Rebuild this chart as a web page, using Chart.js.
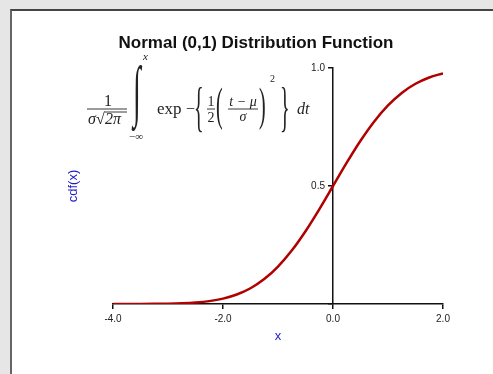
<!DOCTYPE html>
<html>
<head>
<meta charset="utf-8">
<script src="https://cdn.jsdelivr.net/npm/chart.js@4"></script>
<style>
  html, body { margin: 0; padding: 0; }
  body { width: 493px; height: 374px; background: #e6e6e6; position: relative; overflow: hidden; }
  #panel {
    position: absolute; left: 10px; top: 9px; right: 0; bottom: 0;
    background: #fff; border-left: 2px solid #666; border-top: 2px solid #444;
  }
  #wrap { position: absolute; left: 0; top: 0; width: 493px; height: 374px; }
</style>
</head>
<body>
<div id="panel"></div>
<div id="wrap"><canvas id="cdfChart" width="493" height="374"></canvas></div>
<script>
// x positions and cdf values
const xValues = [-4, -3.75, -3.5, -3.25, -3, -2.75, -2.5, -2.25, -2, -1.75, -1.5, -1.25, -1,
  -0.75, -0.5, -0.25, 0, 0.25, 0.5, 0.75, 1, 1.25, 1.5, 1.75, 2];
const cdfValues = [0.0000, 0.0001, 0.0002, 0.0006, 0.0013, 0.0030, 0.0062, 0.0122, 0.0228, 0.0401,
  0.0668, 0.1057, 0.1587, 0.2266, 0.3085, 0.4013, 0.5, 0.5987, 0.6915, 0.7734, 0.8413, 0.8944,
  0.9332, 0.9599, 0.9773];
const xTicks = [-4, -2, 0, 2];
const yTicks = [0, 0.5, 1.0];

const chartTitle = 'Normal (0,1) Distribution Function';
const xLabel = 'x';
const yLabel = 'cdf(x)';
const labelBlue = '#1c1cc4';
const sans = '"Liberation Sans", Arial, sans-serif';

// Helper: draw text piece, optional vertical stretch
function put(ctx, txt, x, y, font, sy, align) {
  ctx.save();
  ctx.font = font;
  ctx.textAlign = align || 'left';
  ctx.textBaseline = 'alphabetic';
  ctx.translate(x, y);
  if (sy) ctx.scale(1, sy);
  ctx.fillText(txt, 0, 0);
  ctx.restore();
}

function hline(ctx, x1, x2, y, w) {
  ctx.save();
  ctx.strokeStyle = '#222';
  ctx.lineWidth = w || 0.9;
  ctx.beginPath();
  ctx.moveTo(x1, y);
  ctx.lineTo(x2, y);
  ctx.stroke();
  ctx.restore();
}

// Title, y label, y tick labels and the formula
const textPlugin = {
  id: 'textPlugin',
  afterDraw(chart) {
    const ctx = chart.ctx;
    const xs = chart.scales.x;
    const ys = chart.scales.y;
    ctx.save();
    ctx.fillStyle = '#111';
    put(ctx, chartTitle, 256, 48, 'bold 17px ' + sans, 0, 'center');

    // y tick labels sit left of the axis at x = 0
    ctx.fillStyle = '#222';
    ctx.font = '10px ' + sans;
    ctx.textAlign = 'right';
    ctx.textBaseline = 'middle';
    ys.ticks.forEach(t => {
      if (t.value === 0) return;
      ctx.fillText(t.value.toFixed(1), xs.getPixelForValue(0) - 8, ys.getPixelForValue(t.value));
    });

    ctx.fillStyle = labelBlue;
    ctx.save();
    ctx.translate(77, 186);
    ctx.rotate(-Math.PI / 2);
    ctx.font = '13px ' + sans;
    ctx.textAlign = 'center';
    ctx.textBaseline = 'alphabetic';
    ctx.fillText(yLabel, 0, 0);
    ctx.restore();

    // formula, math axis at A
    const A = 109;
    ctx.fillStyle = '#222';
    const serif = '"Liberation Serif", "DejaVu Serif", serif';
    const it = 'italic 16px ' + serif;
    const rm = '16px ' + serif;
    // 1 / (sigma sqrt(2 pi))
    put(ctx, '1', 108, A - 3, rm, 0, 'center');
    hline(ctx, 87, 127, A);
    put(ctx, '\u03C3', 88, A + 15, it);
    put(ctx, '\u221A', 96, A + 15, rm);
    put(ctx, '2\u03C0', 105, A + 15, it);
    hline(ctx, 104.5, 127, A + 3);
    // integral with limits
    put(ctx, '\u222B', 133, 113, '28px ' + serif, 2.4);
    put(ctx, 'x', 143, 60, 'italic 11px ' + serif);
    put(ctx, '\u2212\u221E', 129, 140, '11px ' + serif);
    // exp -
    put(ctx, 'exp', 157, A + 5, '17px ' + serif);
    put(ctx, '\u2212', 186, A + 5, rm);
    // { 1/2 ( (t - mu)/sigma )^2 }
    put(ctx, '{', 194, 125, '20px ' + serif, 2.75);
    put(ctx, '1', 211, A - 3, '14px ' + serif, 0, 'center');
    hline(ctx, 207, 215, A);
    put(ctx, '2', 211, A + 13, '14px ' + serif, 0, 'center');
    put(ctx, '(', 216, 119.5, '20px ' + serif, 2.3);
    put(ctx, 't \u2212 \u03BC', 243, A - 3, 'italic 14px ' + serif, 0, 'center');
    hline(ctx, 228, 258, A);
    put(ctx, '\u03C3', 243, A + 12, 'italic 14px ' + serif, 0, 'center');
    put(ctx, ')', 259, 119.5, '20px ' + serif, 2.3);
    put(ctx, '2', 270, 82, '10px ' + serif);
    put(ctx, '}', 280, 125, '20px ' + serif, 2.75);
    put(ctx, 'dt', 297, A + 5, it);
    ctx.restore();
  }
};

const points = xValues.map((x, i) => ({ x: x, y: cdfValues[i] }));

new Chart(document.getElementById('cdfChart'), {
  type: 'line',
  data: {
    datasets: [{
      data: points,
      borderColor: '#b00000',
      borderWidth: 2.5,
      pointRadius: 0,
      fill: false,
      cubicInterpolationMode: 'monotone'
    }]
  },
  options: {
    responsive: false,
    animation: false,
    devicePixelRatio: 1,
    layout: { padding: { left: 113, right: 50, top: 68, bottom: 28 } },
    plugins: { legend: { display: false }, tooltip: { enabled: false }, title: { display: false } },
    scales: {
      x: {
        type: 'linear',
        min: -4,
        max: 2,
        afterFit: s => { s.height = 42; },
        afterBuildTicks: s => { s.ticks = xTicks.map(v => ({ value: v })); },
        ticks: {
          color: '#222',
          font: { size: 10, family: sans },
          padding: 4,
          maxRotation: 0,
          callback: v => v.toFixed(1)
        },
        grid: { display: true, drawOnChartArea: false, drawTicks: true, tickLength: 5, color: '#111', lineWidth: 1.5 },
        border: { display: true, color: '#111', width: 1.5 },
        title: {
          display: true,
          text: xLabel,
          color: labelBlue,
          font: { size: 13, family: sans },
          padding: { top: 0, bottom: 2 }
        }
      },
      y: {
        type: 'linear',
        position: { x: 0 },
        min: 0,
        max: 1,
        afterBuildTicks: s => { s.ticks = yTicks.map(v => ({ value: v })); },
        ticks: { display: false },
        grid: { display: true, drawOnChartArea: false, drawTicks: true, tickLength: 4, color: '#111', lineWidth: 1.5 },
        border: { display: true, color: '#111', width: 1.5 }
      }
    }
  },
  plugins: [textPlugin]
});
</script>
</body>
</html>
